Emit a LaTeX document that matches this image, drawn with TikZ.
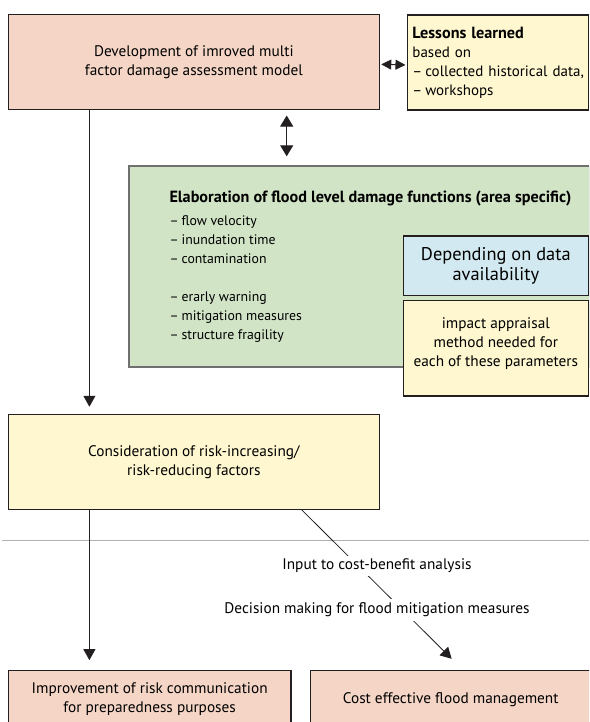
\documentclass[tikz,border=0pt]{standalone}
\usepackage{fontspec}
\setmainfont{PT Sans}
\usetikzlibrary{arrows.meta}
\definecolor{salmon}{HTML}{F5D6C6}
\definecolor{lyellow}{HTML}{FEF7CF}
\definecolor{lgreen}{HTML}{D1E4C6}
\definecolor{lblue}{HTML}{D3E9F1}
\definecolor{boxline}{HTML}{231F20}
\definecolor{greenline}{HTML}{707070}
\definecolor{sepline}{HTML}{B0B0B0}
\newcommand{\bigbf}[1]{{\fontsize{16.2}{19}\selectfont\bfseries #1}}
\newcommand{\dashitem}{–\hspace{3pt}}
\tikzset{
  box/.style={draw=boxline, line width=1.1pt, inner sep=0pt, align=center,
    font=\fontsize{15.3}{19}\selectfont},
  txt/.style={inner sep=0pt, font=\fontsize{15.3}{19}\selectfont},
  arr/.style={draw=boxline, line width=1pt, -{Triangle[length=11pt,width=12pt]}},
  darr/.style={draw=boxline, line width=1pt, {Triangle[length=11pt,width=13pt]}-{Triangle[length=11pt,width=13pt]}},
  harr/.style={draw=boxline, line width=1pt, {Triangle[length=10pt,width=10pt]}-{Triangle[length=10pt,width=10pt]}},
  lbl/.style={fill=white, inner xsep=2pt, inner ysep=0pt, font=\fontsize{15.3}{19}\selectfont},
}
\begin{document}
\begin{tikzpicture}[x=1pt,y=-1pt]
\useasboundingbox (0,0) rectangle (589,722);
\clip (0,0) rectangle (589,722);
\fill[white] (0,0) rectangle (589,722);

% boxes
\node[box, fill=salmon, minimum width=371.1pt, minimum height=95pt] (A) at (193.85,61.8)
  {Development of imroved multi\\factor damage assessment model};
\node[box, fill=lyellow, minimum width=181.2pt, minimum height=95pt, text width=171pt, align=left,
      font=\fontsize{15}{19}\selectfont] (B) at (497.9,62.5)
  {\bigbf{Lessons learned}\\based on\\\mbox{\dashitem collected historical data,}\\\dashitem workshops};
\node[draw=greenline, line width=2pt, fill=lgreen, minimum width=461pt, minimum height=201.6pt, inner sep=0pt] (C) at (359,266.5) {};
\node[txt, anchor=north west, align=left, font=\fontsize{13.8}{19}\selectfont] (Ct) at (169.3,190.5)
  {\bigbf{Elaboration of flood level damage functions (area specific)}\\[4pt]
   \dashitem flow velocity\\\dashitem inundation time\\\dashitem contamination\\[19pt]
   \dashitem erarly warning\\\dashitem mitigation measures\\\dashitem structure fragility};
\node[box, fill=lblue, minimum width=185pt, minimum height=59.7pt, font=\fontsize{18.4}{20.7}\selectfont] (D) at (495.8,265.85)
  {Depending on data\\availability};
\node[box, fill=lyellow, minimum width=185pt, minimum height=95.3pt] (E) at (495.8,348.35) {};
\node[txt, align=center] (Et) at (495.8,343.8)
  {impact appraisal\\method needed for\\each of these parameters};
\node[box, fill=lyellow, minimum width=371.1pt, minimum height=95pt] (F) at (193.85,461.8)
  {Consideration of risk-increasing/\\risk-reducing factors};
\node[box, fill=salmon, minimum width=282.7pt, minimum height=58pt] (G) at (149.65,699.3)
  {Improvement of risk communication\\for preparedness purposes};
\node[box, fill=salmon, minimum width=280pt, minimum height=58pt] (H) at (450.7,699.3)
  {Cost effective flood management};

% separator
\coordinate (gl) at (2,540.7);
\coordinate (gr) at (589,540.7);
\draw[draw=sepline, line width=1.3pt] (gl) -- (gr);

% connectors
\coordinate (xl) at (89.4,0);
\coordinate (xm) at (286.7,0);
\coordinate (xd1) at (301.7,0);
\coordinate (xd2) at (462.7,0);
\draw[arr, shorten >=7pt] (A.south -| xl) -- (F.north -| xl);
\draw[arr, shorten >=9.6pt] (F.south -| xl) -- (G.north -| xl);
\draw[harr, shorten <=1.3pt, shorten >=1.3pt] ([yshift=-2.5pt]A.east) -- ([yshift=-2.5pt]B.west);
\draw[darr, shorten <=5.7pt, shorten >=8.4pt] (A.south -| xm) -- (C.north -| xm);
\draw[arr, line width=0.8pt, shorten >=15.6pt] (F.south -| xd1) -- (H.north -| xd2);

% labels on the diagonal
\node[lbl, minimum height=20pt] (L1) at (377,566) {Input to cost-benefit analysis};
\node[lbl, minimum height=22pt] (L2) at (377,610) {Decision making for flood mitigation measures};
\end{tikzpicture}
\end{document}
